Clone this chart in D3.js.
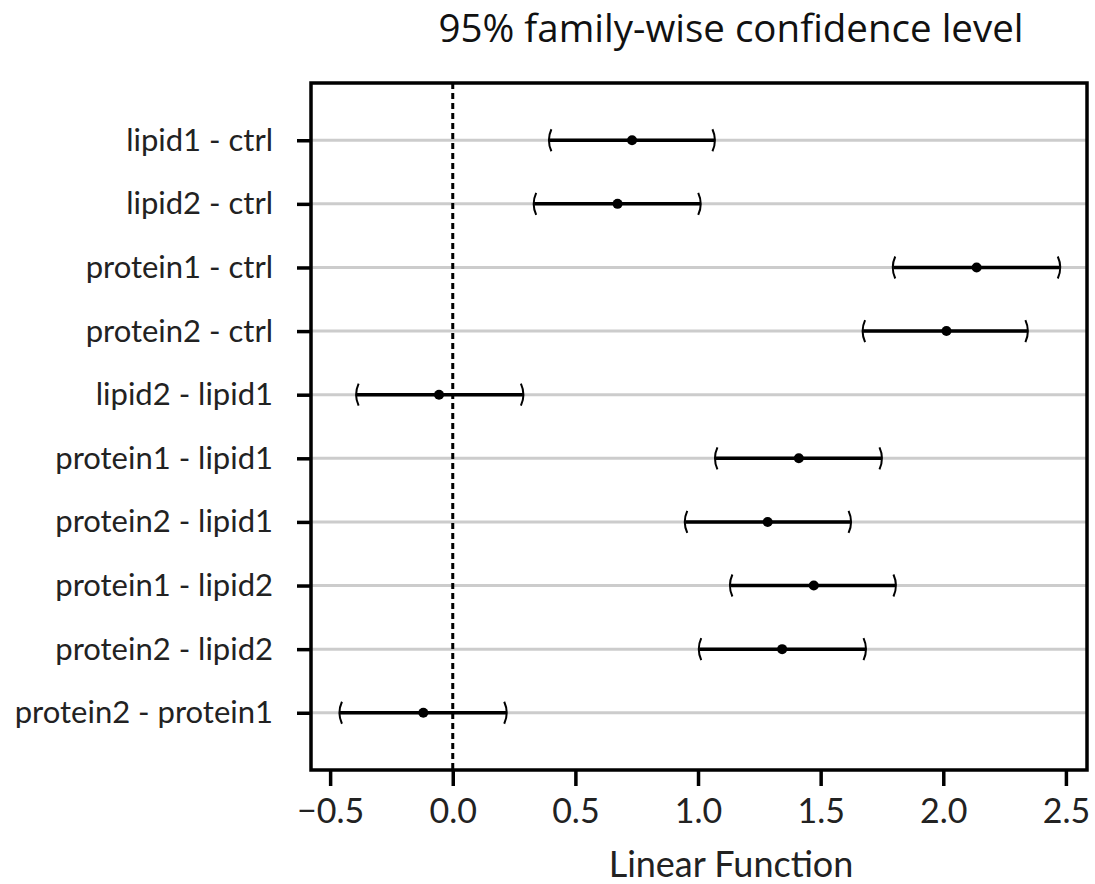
<!DOCTYPE html>
<html><head><meta charset="utf-8">
<script src="https://cdn.jsdelivr.net/npm/d3@7"></script>
<style>body{margin:0;background:#fff}</style>
</head><body>
<script>
const comparisons = ["lipid1 - ctrl","lipid2 - ctrl","protein1 - ctrl","protein2 - ctrl","lipid2 - lipid1","protein1 - lipid1","protein2 - lipid1","protein1 - lipid2","protein2 - lipid2","protein2 - protein1"];
const estimates = [0.731, 0.672, 2.136, 2.013, -0.056, 1.411, 1.284, 1.472, 1.343, -0.120];
const lowerCI   = [0.394, 0.332, 1.796, 1.673, -0.392, 1.071, 0.948, 1.132, 1.005, -0.460];
const upperCI   = [1.067, 1.009, 2.475, 2.343, 0.286, 1.748, 1.622, 1.805, 1.683, 0.218];
const xTicks = [-0.5, 0.0, 0.5, 1.0, 1.5, 2.0, 2.5];
const titleText = "95% family-wise confidence level";
const xLabel = "Linear Function";

const W = 1095, H = 884;
const m = {left: 311, right: 1087, top: 83, bottom: 770};
const svg = d3.select("body").append("svg").attr("width", W).attr("height", H);
const font = "Lato, 'Open Sans', sans-serif";

const x = d3.scaleLinear().domain([-0.578, 2.586]).range([m.left, m.right]);
const y = d3.scalePoint().domain(comparisons).range([m.top, m.bottom]).padding(0.9);

// grid lines
svg.append("g").selectAll("line").data(comparisons).join("line")
  .attr("x1", m.left).attr("x2", m.right)
  .attr("y1", d => y(d)).attr("y2", d => y(d))
  .attr("stroke", "#cccccc").attr("stroke-width", 3);

// zero line
svg.append("line").attr("x1", x(0)).attr("x2", x(0)).attr("y1", m.top).attr("y2", m.bottom)
  .attr("stroke", "#000").attr("stroke-width", 3).attr("stroke-dasharray", "6,4");

const rows = comparisons.map((c, i) => ({c, est: estimates[i], lo: lowerCI[i], hi: upperCI[i]}));

// CI lines
svg.append("g").selectAll("line").data(rows).join("line")
  .attr("x1", d => x(d.lo)).attr("x2", d => x(d.hi))
  .attr("y1", d => y(d.c)).attr("y2", d => y(d.c))
  .attr("stroke", "#000").attr("stroke-width", 3.5);

// brackets
svg.append("g").selectAll("path").data(rows).join("path")
  .attr("d", d => { const X = x(d.lo), Y = y(d.c); return `M${X+2},${Y-11} Q${X-3},${Y} ${X+2},${Y+11}`; })
  .attr("fill", "none").attr("stroke", "#000").attr("stroke-width", 2);
svg.append("g").selectAll("path").data(rows).join("path")
  .attr("d", d => { const X = x(d.hi), Y = y(d.c); return `M${X-2},${Y-11} Q${X+3},${Y} ${X-2},${Y+11}`; })
  .attr("fill", "none").attr("stroke", "#000").attr("stroke-width", 2);

// points
svg.append("g").selectAll("circle").data(rows).join("circle")
  .attr("cx", d => x(d.est)).attr("cy", d => y(d.c)).attr("r", 5).attr("fill", "#000");

// frame
svg.append("rect").attr("x", m.left).attr("y", m.top).attr("width", m.right - m.left).attr("height", m.bottom - m.top)
  .attr("fill", "none").attr("stroke", "#000").attr("stroke-width", 3.5);

// x axis
const xAxis = svg.append("g").attr("transform", `translate(0,${m.bottom})`)
  .call(d3.axisBottom(x).tickValues(xTicks).tickFormat(d3.format(".1f")).tickSize(16).tickPadding(13));
xAxis.select(".domain").remove();
xAxis.selectAll(".tick line").attr("stroke", "#000").attr("stroke-width", 3.5);
xAxis.selectAll(".tick text").attr("font-family", font).attr("font-size", 34).attr("fill", "#222");

// y axis
const yAxis = svg.append("g").attr("transform", `translate(${m.left},0)`)
  .call(d3.axisLeft(y).tickSize(14).tickPadding(24));
yAxis.select(".domain").remove();
yAxis.selectAll(".tick line").attr("stroke", "#000").attr("stroke-width", 3.5);
yAxis.selectAll(".tick text").attr("font-family", font).attr("font-size", 31).attr("fill", "#222");

// title
svg.append("text").attr("x", 731).attr("y", 42).attr("text-anchor", "middle")
  .attr("font-family", "'Open Sans', sans-serif").attr("font-size", 38.5).attr("fill", "#111").text(titleText);

// x label
svg.append("text").attr("x", 731).attr("y", 877).attr("text-anchor", "middle")
  .attr("font-family", font).attr("font-size", 36).attr("fill", "#222").text(xLabel);
</script>
</body></html>
